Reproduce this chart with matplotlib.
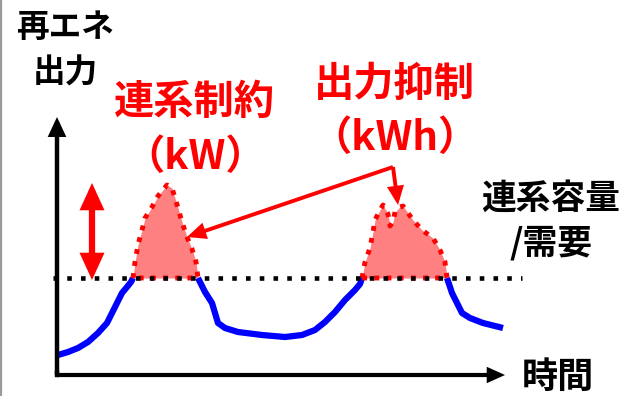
import numpy as np
import matplotlib
matplotlib.use("Agg")
import matplotlib.pyplot as plt
from matplotlib.patches import FancyArrowPatch

plt.rcParams['font.family'] = ['Noto Sans CJK JP', 'DejaVu Sans']

# Renewable output over time (arbitrary units), with the grid-connection limit
time = [1, 11, 21, 31, 41, 50, 55, 60, 65, 70, 74, 76,
        78, 81, 85, 88, 95, 101, 110, 115, 118, 121, 125, 130, 135, 139, 141,
        145, 148, 155, 158, 161, 168, 181, 205, 228, 245, 258, 268, 278, 288, 298, 303, 305,
        308, 313, 316, 318, 323, 326, 331, 333, 336, 338, 343, 346, 356, 365, 376, 383, 388, 390,
        395, 400, 405, 413, 426, 446]
output = [20, 23, 27, 33, 42, 52, 62, 72, 82, 88, 93, 97,
          113, 130, 145, 157, 168, 179, 190, 187, 177, 167, 153, 138, 126, 113, 97,
          89, 83, 72, 62, 52, 47, 43, 40, 38, 40, 45, 53, 63, 75, 85, 91, 97,
          113, 127, 143, 155, 165, 170, 161, 149, 153, 163, 168, 169, 155, 145, 137, 125, 113, 97,
          82, 72, 62, 57, 52, 47]
capacity = 97

label_y = ['再エネ', '出力']
label_x = '時間'
label_cap = ['連系容量', '/需要']
label_kw = ['連系制約', '（kW）']
label_kwh = ['出力抑制', '（kWh）']

t = np.array(time, dtype=float)
p = np.array(output, dtype=float)

fig = plt.figure(figsize=(6.26, 3.96), dpi=100)
ax = fig.add_axes([0, 0, 1, 1])
ax.set_xlim(-57, 569)
ax.set_ylim(-21, 375)
ax.axis('off')

RED = '#FF0000'
PINK = '#FF8080'
BLUE = '#0000FF'

# frame edge on the left
ax.plot([-55.5, -55.5], [-21, 375], color='#9a9a9a', lw=1.6, solid_capstyle='butt')

# output below the limit
below = np.where(p <= capacity, p, np.nan)
ax.plot(t, below, color=BLUE, lw=4.5, solid_capstyle='butt', solid_joinstyle='round', zorder=3)

# curtailed peaks above the limit
above = p >= capacity
idx = np.where(above)[0]
runs = np.split(idx, np.where(np.diff(idx) > 1)[0] + 1)
for r in runs:
    if len(r) < 3:
        continue
    tx = t[r]
    py = p[r]
    ax.fill_between(tx, capacity, py, color=PINK, lw=0, zorder=2)
    xs = np.concatenate([tx, [tx[0]]])
    ys = np.concatenate([py, [capacity]])
    ax.plot(xs, ys, color=RED, lw=3.5, linestyle=(0, (1, 1.5)),
            dash_capstyle='butt', zorder=3)

# capacity / demand level
ax.plot([-4, 465], [capacity, capacity], color='black', lw=3.3,
        linestyle=(0, (1, 2.0)), dash_capstyle='butt', zorder=4)

def arrow(p0, p1, color, lw, hl, hw, style='-|>'):
    a = FancyArrowPatch(p0, p1, arrowstyle=f'{style},head_length={hl},head_width={hw}',
                        color=color, lw=lw, shrinkA=0, shrinkB=0,
                        mutation_scale=1, joinstyle='miter', capstyle='butt', zorder=5)
    ax.add_patch(a)

# axes
arrow((0, 0), (0, 258), 'black', 3.2, 9, 4.2)
arrow((0, 0), (448, 0), 'black', 3.0, 8, 3.6)
ax.plot([0, 0], [0, 2], color='black', lw=3.2)

# double arrow showing the kW limit
arrow((35, 144), (35, 192), RED, 4.5, 12, 5.5)
arrow((35, 144), (35, 95), RED, 4.5, 12, 5.5)

# pointers from the curtailment label
arrow((336, 208), (130, 138), RED, 2.8, 9, 4.0)
arrow((336, 208), (341, 170), RED, 2.8, 9, 4.0)

fp = dict(fontweight='bold')
ax.text(8, 347, label_y[0], fontsize=23.5, ha='center', va='center', color='black', **fp)
ax.text(8, 302, label_y[1], fontsize=23.5, ha='center', va='center', color='black', **fp)
ax.text(137, 273, label_kw[0], fontsize=29, ha='center', va='center', color=RED, **fp)
ax.text(138, 218, label_kw[1], fontsize=29, ha='center', va='center', color=RED, **fp)
ax.text(337, 291, label_kwh[0], fontsize=29, ha='center', va='center', color=RED, **fp)
ax.text(338, 237, label_kwh[1], fontsize=29, ha='center', va='center', color=RED, **fp)
ax.text(494, 177, label_cap[0], fontsize=25, ha='center', va='center', color='black', **fp)
ax.text(494, 132, label_cap[1], fontsize=25, ha='center', va='center', color='black', **fp)
ax.text(501, -21, label_x, fontsize=26, ha='center', va='bottom', color='black', **fp)

fig.savefig('out.png', dpi=100)
